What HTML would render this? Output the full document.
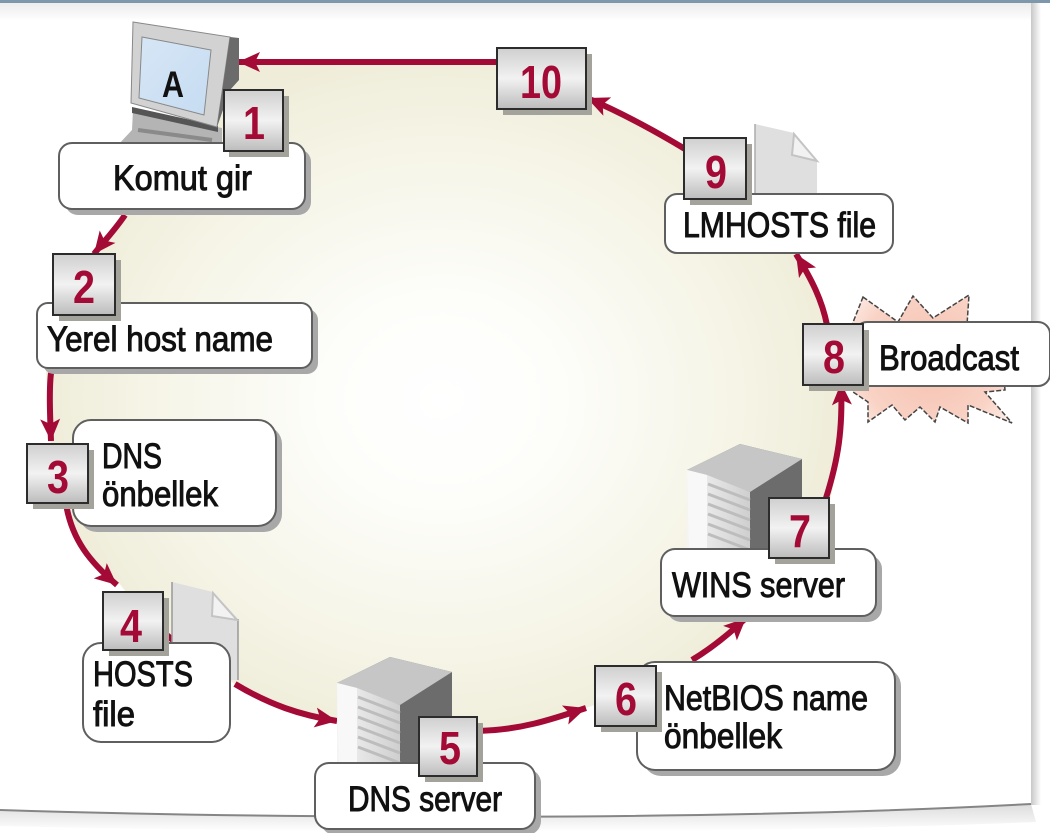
<!DOCTYPE html>
<html><head><meta charset="utf-8"><style>html,body{margin:0;padding:0;background:#fff;width:1050px;height:833px;overflow:hidden}svg{display:block}text{font-family:"Liberation Sans",sans-serif}</style></head><body>
<svg width="1050" height="833" viewBox="0 0 1050 833" xmlns="http://www.w3.org/2000/svg">
<defs>
<linearGradient id="top" x1="0" y1="0" x2="0" y2="1"><stop offset="0" stop-color="#ececec"/><stop offset="1" stop-color="#fff"/></linearGradient>
<linearGradient id="rs" x1="0" y1="0" x2="1" y2="0"><stop offset="0" stop-color="#c8c8c8"/><stop offset="1" stop-color="#fff"/></linearGradient>
<linearGradient id="bs" x1="0" y1="0" x2="0" y2="1"><stop offset="0" stop-color="#dcdcdc"/><stop offset="1" stop-color="#fff"/></linearGradient>
<radialGradient id="disc" cx="442" cy="400" r="400" gradientUnits="userSpaceOnUse" gradientTransform="translate(442 400) scale(1 .87) translate(-442 -400)"><stop offset="0" stop-color="#fff"/><stop offset=".3" stop-color="#fdfdfa"/><stop offset=".7" stop-color="#f6f5e8"/><stop offset="1" stop-color="#efedd9"/></radialGradient>
<radialGradient id="burst" cx="930" cy="360" r="100" gradientUnits="userSpaceOnUse"><stop offset="0" stop-color="#f5c0ae"/><stop offset=".7" stop-color="#f9d3c6"/><stop offset="1" stop-color="#fdeee8"/></radialGradient>
<linearGradient id="box" x1="0" y1="0" x2="0" y2="1"><stop offset="0" stop-color="#cfcfcf"/><stop offset=".5" stop-color="#f2f2f2"/><stop offset="1" stop-color="#bcbcbc"/></linearGradient>
<linearGradient id="scr" x1="0" y1="0" x2="1" y2="1"><stop offset="0" stop-color="#d6e6f6"/><stop offset="1" stop-color="#c6dcf2"/></linearGradient>
<linearGradient id="srv" x1="0" y1="0" x2="1" y2="0"><stop offset="0" stop-color="#f4f4f4"/><stop offset="1" stop-color="#cfcfcf"/></linearGradient>
<marker id="ah" markerUnits="userSpaceOnUse" markerWidth="26" markerHeight="24" refX="22" refY="11" orient="auto"><path d="M0 1L22 11L0 21L5 11Z" fill="#a30a35"/></marker>
<g id="srvr">
<path d="M0 26L53 0L115 15L115 110L0 110Z" fill="#6c6c6c"/>
<path d="M0 26L53 0L115 15L63 48Z" fill="#c6c6c6"/>
<path d="M0 26L20 31L63 48L63 110L0 110Z" fill="url(#srv)"/>
<path d="M0 26L20 31L20 110L2 110Z" fill="#f8f8f8"/>
<path d="M21 40L63 56M21 50L63 66M21 60L63 76M21 70L63 86M21 80L63 96M21 90L63 106" stroke="#bdbdbd" stroke-width="3"/>
</g>
</defs>
<rect width="1050" height="833" fill="#fff"/>
<rect x="0" y="0" width="1050" height="3" fill="#7e97ad"/>
<rect x="0" y="3" width="1031" height="18" fill="url(#top)"/>
<rect x="1031" y="3" width="10" height="802" fill="url(#rs)"/>
<path d="M0 810C250 818 700 822 1031 804L1036 822C700 836 250 832 0 826Z" fill="url(#bs)"/>
<path d="M0 810C250 818 700 822 1031 804" fill="none" stroke="#858585" stroke-width="2"/>

<path d="M240 62L500 62L585 100C625 118 660 132 690 150C745 185 775 220 797 253C815 285 825 310 828 325C838 370 840 420 838 440C836 470 833 490 830 500C810 560 780 590 745 620L692 662C660 680 625 695 586 708C550 720 515 730 480 732C430 735 380 730 337 721C300 715 265 700 235 684L165 640L118 582C95 560 72 540 66 504L50 440L46 370C55 320 70 285 93 254L124 215Z" fill="url(#disc)"/>

<!-- starburst -->
<path d="M863 297L898 322L913 296L933 318L969 295L967 325L1000 330L1005 390L985 392L1012 423L968 405L968 423L940 407L935 422L920 407L905 420L892 405L868 422L868 402L853 392L850 330Z" fill="url(#burst)" stroke="#444" stroke-width="1.5" stroke-dasharray="5 2"/>

<!-- connectors -->
<g fill="none" stroke="#a30a35" stroke-width="6">
<path d="M500 62L238 62" marker-end="url(#ah)"/>
<path d="M685 149C650 128 620 112 587 98" marker-end="url(#ah)"/>
<path d="M827 325C822 300 812 280 796 254" marker-end="url(#ah)"/>
<path d="M826 498C838 460 843 430 841 383" marker-end="url(#ah)"/>
<path d="M692 660C712 648 728 635 746 618" marker-end="url(#ah)"/>
<path d="M478 731C520 730 550 720 586 708" marker-end="url(#ah)"/>
<path d="M235 684C270 705 300 715 337 721" marker-end="url(#ah)"/>
<path d="M163 632L174 641"/>
<path d="M66 504C72 540 90 562 117 585" marker-end="url(#ah)"/>
<path d="M51 373C49 390 50 415 51 441" marker-end="url(#ah)"/>
<path d="M125 215C115 230 105 240 94 254" marker-end="url(#ah)"/>
</g>

<!-- computer -->
<path d="M118 145L132 130L133 110L222 128L222 145Z" fill="#b4b4b4"/>
<path d="M132 107L218 126L218 132L132 113Z" fill="#555"/>
<path d="M138 130L212 140" stroke="#8a8a8a" stroke-width="4"/>
<path d="M133 22L230 37L217 127L131 103Z" fill="#d2d2d2" stroke="#888"/>
<path d="M230 37L239 38L239 80L230 90L217 127Z" fill="#6b6b6b"/>
<path d="M142 37L211 50L204 115L139 98Z" fill="url(#scr)" stroke="#888"/>
<text x="173" y="97" font-size="37" font-weight="bold" fill="#111" text-anchor="middle" textLength="22" lengthAdjust="spacingAndGlyphs">A</text>

<!-- servers -->
<use href="#srvr" x="337" y="657"/>
<use href="#srvr" x="687" y="444"/>

<!-- documents -->
<path d="M755 124L794 133L817 161L817 196L755 196Z" fill="#dfdfdf"/>
<path d="M755 124L755 196" stroke="#aaa" stroke-width="1.5"/>
<path d="M794 134L792 155L817 161Z" fill="#f2f2f2" stroke="#c4c4c4" stroke-width="2"/>
<path d="M172 582L213 592L238 619L238 680L172 680Z" fill="#dfdfdf"/>
<path d="M172 582L172 650M238 619L238 680" stroke="#999" stroke-width="1.5"/>
<path d="M213 593L212 616L237 620Z" fill="#f2f2f2" stroke="#c4c4c4" stroke-width="2"/>

<!-- label boxes -->
<g fill="#fff" stroke="#5f5f5f" stroke-width="2">
<rect x="65" y="149" width="246" height="66" rx="13" fill="#a8a8a8" stroke="none"/><rect x="59" y="143" width="246" height="66" rx="13"/>
<rect x="43" y="309" width="275" height="65" rx="11" fill="#a8a8a8" stroke="none"/><rect x="37" y="303" width="275" height="65" rx="11"/>
<rect x="79" y="426" width="203" height="106" rx="18" fill="#a8a8a8" stroke="none"/><rect x="73" y="420" width="203" height="106" rx="18"/>
<rect x="83" y="643" width="147" height="99" rx="18"/>
<rect x="321" y="769" width="220" height="66" rx="14" fill="#a8a8a8" stroke="none"/><rect x="315" y="763" width="220" height="66" rx="14"/>
<rect x="643" y="668" width="258" height="108" rx="18" fill="#a8a8a8" stroke="none"/><rect x="637" y="662" width="258" height="108" rx="18"/>
<rect x="667" y="555" width="215" height="67" rx="14" fill="#a8a8a8" stroke="none"/><rect x="661" y="549" width="215" height="67" rx="14"/>
<rect x="665" y="194" width="228" height="59" rx="12"/>
<rect x="855" y="322" width="195" height="64" rx="12"/>
</g>

<!-- text -->
<g fill="#111" font-size="35" stroke="#111" stroke-width="1">
<text x="113" y="190" textLength="139" lengthAdjust="spacingAndGlyphs">Komut gir</text>
<text x="47" y="351" textLength="226" lengthAdjust="spacingAndGlyphs">Yerel host name</text>
<text x="102" y="468" textLength="60" lengthAdjust="spacingAndGlyphs">DNS</text>
<text x="102" y="506" textLength="116" lengthAdjust="spacingAndGlyphs">önbellek</text>
<text x="93" y="686" textLength="100" lengthAdjust="spacingAndGlyphs">HOSTS</text>
<text x="93" y="726" textLength="42" lengthAdjust="spacingAndGlyphs">file</text>
<text x="348" y="811" textLength="154" lengthAdjust="spacingAndGlyphs">DNS server</text>
<text x="664" y="710" textLength="204" lengthAdjust="spacingAndGlyphs">NetBIOS name</text>
<text x="664" y="748" textLength="118" lengthAdjust="spacingAndGlyphs">önbellek</text>
<text x="672" y="597" textLength="173" lengthAdjust="spacingAndGlyphs">WINS server</text>
<text x="683" y="237" textLength="193" lengthAdjust="spacingAndGlyphs">LMHOSTS file</text>
<text x="879" y="370" textLength="140" lengthAdjust="spacingAndGlyphs">Broadcast</text>
</g>

<!-- number boxes -->
<g>
<g fill="#a3a39c">
<rect x="229" y="96" width="60" height="61"/><rect x="59" y="260" width="62" height="61"/><rect x="33" y="450" width="61" height="59"/><rect x="109" y="598" width="60" height="58"/><rect x="425" y="723" width="58" height="59"/><rect x="601" y="672" width="61" height="60"/><rect x="775" y="504" width="60" height="60"/><rect x="809" y="330" width="60" height="61"/><rect x="690" y="144" width="62" height="61"/><rect x="503" y="54" width="89" height="61"/>
</g>
<g fill="url(#box)" stroke="#2c2c2c" stroke-width="2">
<rect x="224" y="90" width="59" height="61"/><rect x="53" y="254" width="62" height="61"/><rect x="27" y="444" width="61" height="59"/><rect x="103" y="592" width="60" height="58"/><rect x="419" y="717" width="58" height="59"/><rect x="595" y="666" width="61" height="60"/><rect x="769" y="498" width="60" height="60"/><rect x="803" y="324" width="60" height="61"/><rect x="684" y="138" width="62" height="61"/><rect x="497" y="48" width="89" height="61"/>
</g>
<g fill="#a30a35" font-size="46" font-weight="bold" text-anchor="middle">
<text x="254" y="139" textLength="22" lengthAdjust="spacingAndGlyphs">1</text>
<text x="84" y="303" textLength="22" lengthAdjust="spacingAndGlyphs">2</text>
<text x="58" y="493" textLength="22" lengthAdjust="spacingAndGlyphs">3</text>
<text x="131" y="642" textLength="22" lengthAdjust="spacingAndGlyphs">4</text>
<text x="450" y="764" textLength="22" lengthAdjust="spacingAndGlyphs">5</text>
<text x="626" y="715" textLength="22" lengthAdjust="spacingAndGlyphs">6</text>
<text x="800" y="547" textLength="22" lengthAdjust="spacingAndGlyphs">7</text>
<text x="834" y="373" textLength="22" lengthAdjust="spacingAndGlyphs">8</text>
<text x="716" y="188" textLength="22" lengthAdjust="spacingAndGlyphs">9</text>
<text x="541" y="98" textLength="42" lengthAdjust="spacingAndGlyphs">10</text>
</g>
</g>
</svg>
</body></html>
